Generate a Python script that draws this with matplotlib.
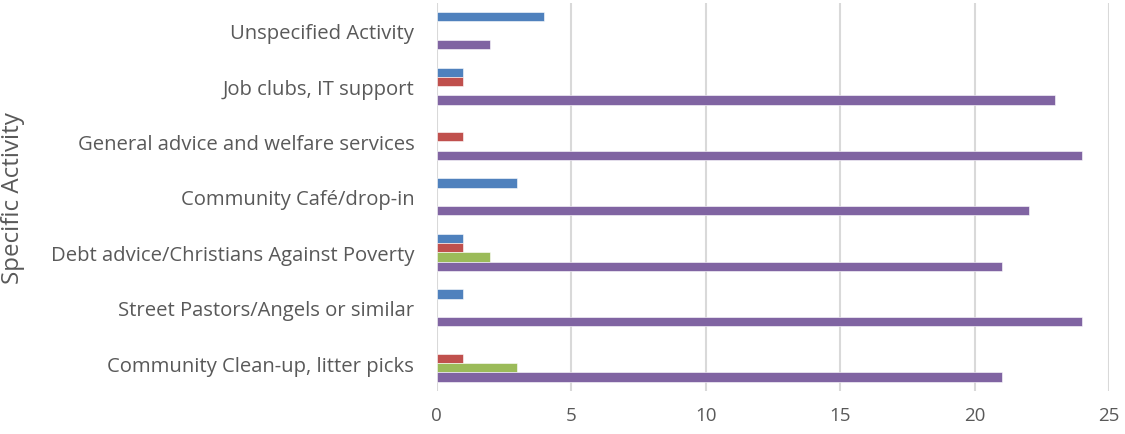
import matplotlib
matplotlib.use("Agg")
import matplotlib.pyplot as plt
import numpy as np

categories = [
    "Community Clean-up, litter picks",
    "Street Pastors/Angels or similar",
    "Debt advice/Christians Against Poverty",
    "Community Café/drop-in",
    "General advice and welfare services",
    "Job clubs, IT support",
    "Unspecified Activity",
]
series_names = ["Series 1", "Series 2", "Series 3", "Series 4"]
series1 = [0, 1, 1, 3, 0, 1, 4]     # blue
series2 = [1, 0, 1, 0, 1, 1, 0]     # red
series3 = [3, 0, 2, 0, 0, 0, 0]     # green
series4 = [21, 24, 21, 22, 24, 23, 2]  # purple
colors = ["#4F81BD", "#C0504D", "#9BBB59", "#8064A2"]
xticks = [0, 5, 10, 15, 20, 25]

plt.rcParams['font.family'] = ['Open Sans', 'DejaVu Sans']
fig = plt.figure(figsize=(11.25, 4.35), dpi=100)
ax = fig.add_axes([0.388, 0.099, 0.598, 0.892])

y = np.arange(len(categories))
h = 0.167
data = [series1, series2, series3, series4]
for i, (vals, c, name) in enumerate(zip(data, colors, series_names)):
    offset = (1.5 - i) * h
    vals = np.array(vals, dtype=float)
    mask = vals > 0
    ax.barh(y[mask] + offset, vals[mask], height=h, color=c, label=name,
            edgecolor="white", linewidth=0.4, zorder=3)

ax.set_xlim(0, 25)
ax.set_ylim(-0.5, len(categories) - 0.5)
ax.set_xticks(xticks)
ax.set_xticklabels([str(t) for t in xticks])
ax.set_yticks(y)
ax.set_yticklabels(categories)
ax.grid(axis="x", color="#D9D9D9", linewidth=1.5, zorder=0)
for s in ax.spines.values():
    s.set_visible(False)
ax.tick_params(axis="y", length=0, pad=16, labelsize=14.6, labelcolor="#595959")
ax.tick_params(axis="x", length=0, pad=11, labelsize=13.5, labelcolor="#595959")
ax.set_ylabel("Specific Activity", fontsize=17.4, color="#595959")
ax.yaxis.set_label_coords(-0.611, 0.5)

fig.savefig("out.png", dpi=100)
